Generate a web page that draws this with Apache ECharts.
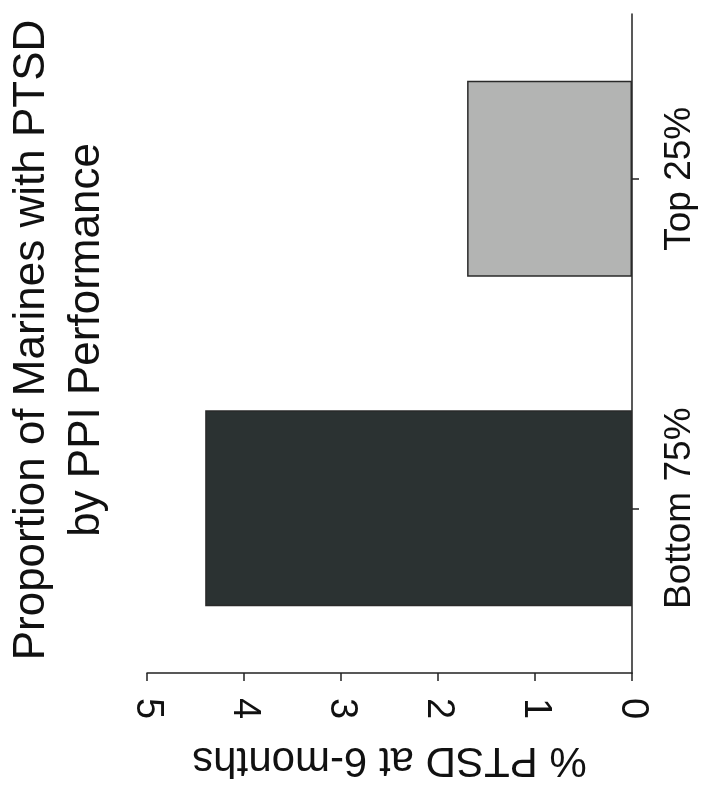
<!DOCTYPE html>
<html>
<head>
<meta charset="utf-8">
<script src="https://cdn.jsdelivr.net/npm/echarts@6/dist/echarts.min.js"></script>
<style>
html,body{margin:0;padding:0;background:#fff;}
#chart{width:710px;height:793px;}
</style>
</head>
<body>
<div id="chart"></div>
<script>
const categories = ['Bottom 75%', 'Top 25%'];
const ptsdValues = [4.4, 1.7];
const barColors = ['#2b3232', '#b3b4b3'];
const titleLines = ['Proportion of Marines with PTSD', 'by PPI Performance'];
const valueAxisName = '% PTSD at 6-months';
const valueTicks = { min: 0, max: 5, interval: 1 };

const FONT = '"Liberation Sans", Arial, Helvetica, sans-serif';
const chart = echarts.init(document.getElementById('chart'), null, { renderer: 'canvas' });

const option = {
  backgroundColor: '#ffffff',
  animation: false,
  grid: { left: 147, right: 78, top: 14, bottom: 120, outerBoundsMode: 'none', containLabel: false },
  xAxis: {
    type: 'value',
    inverse: true,
    position: 'bottom',
    min: valueTicks.min, max: valueTicks.max, interval: valueTicks.interval,
    splitLine: { show: false },
    axisLine: { show: true, lineStyle: { color: '#222', width: 1.5 } },
    axisTick: { show: true, inside: false, length: 8, lineStyle: { color: '#222', width: 1.5 } },
    axisLabel: { rotate: -90, fontSize: 38, fontFamily: FONT, color: '#111', margin: 25 },
    name: valueAxisName,
    nameLocation: 'middle',
    nameRotate: 180,
    nameGap: 66,
    nameTextStyle: { fontSize: 42, fontFamily: FONT, color: '#111' }
  },
  yAxis: {
    type: 'category',
    position: 'right',
    data: categories,
    axisLine: { show: true, lineStyle: { color: '#222', width: 1.5 } },
    axisTick: { show: true, alignWithLabel: true, length: 7, lineStyle: { color: '#222', width: 1.5 } },
    axisLabel: { rotate: 90, fontSize: 37, fontFamily: FONT, color: '#111', margin: 29 },
    splitLine: { show: false }
  },
  series: [{
    type: 'bar',
    barWidth: '59.5%',
    data: ptsdValues.map((v, i) => ({
      value: v,
      itemStyle: { color: barColors[i], borderColor: '#2a2a2a', borderWidth: 1.5 }
    }))
  }],
  graphic: [{
    type: 'text',
    x: 59,
    y: 340,
    rotation: Math.PI / 2,
    style: {
      text: titleLines.join('\n'),
      font: '44px ' + FONT,
      fill: '#111',
      align: 'center',
      verticalAlign: 'middle',
      lineHeight: 55
    }
  }]
};
chart.setOption(option);
</script>
</body>
</html>
